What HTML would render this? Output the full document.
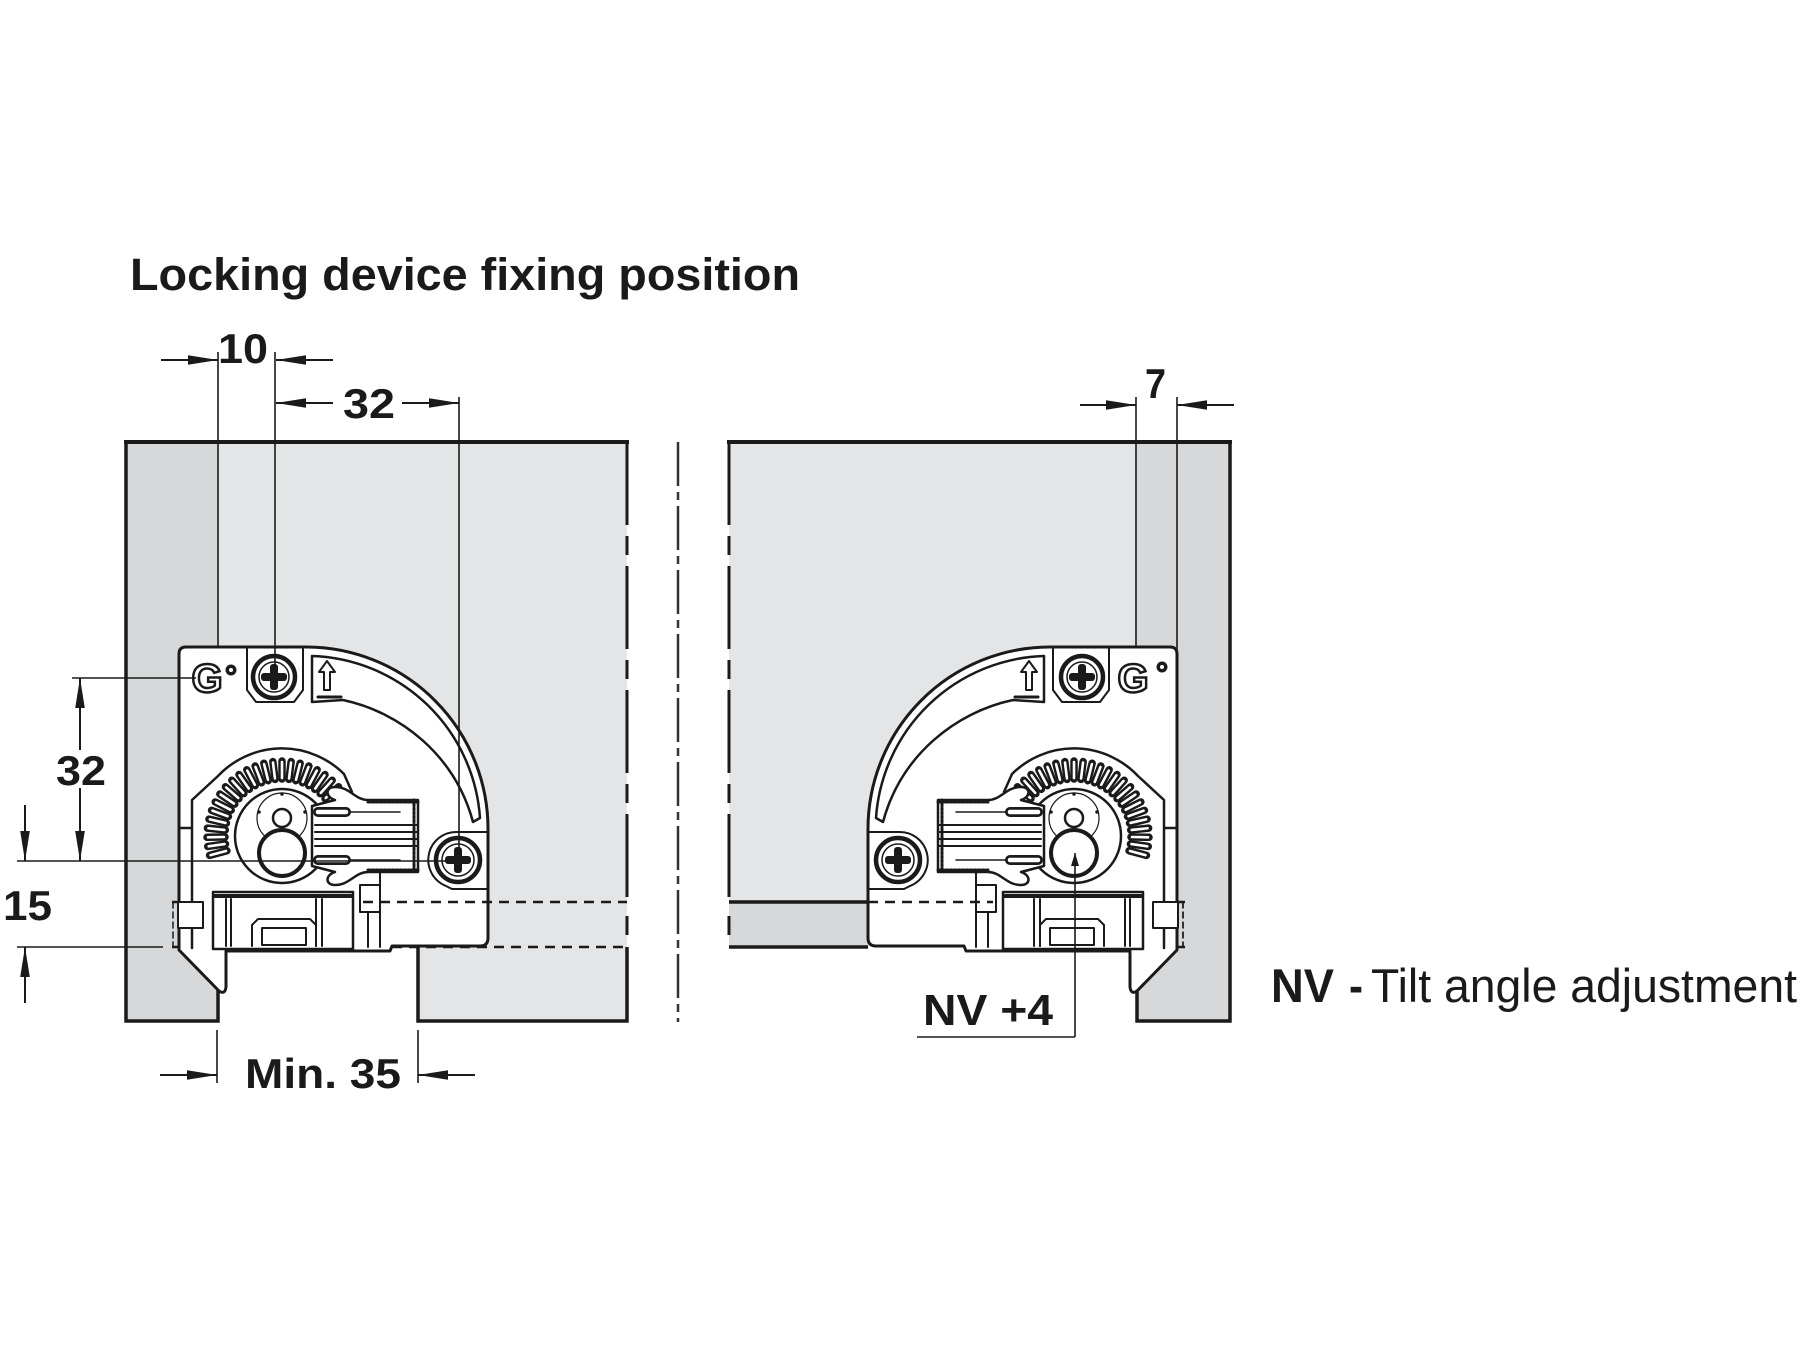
<!DOCTYPE html>
<html>
<head>
<meta charset="utf-8">
<style>
html,body{margin:0;padding:0;background:#fff;}
svg{display:block;}
text{font-family:"Liberation Sans",Arial,sans-serif;fill:#1a1a1a;}
</style>
</head>
<body>
<svg width="1800" height="1350" viewBox="0 0 1800 1350" xmlns="http://www.w3.org/2000/svg">
<defs>
  <marker id="ah" markerUnits="userSpaceOnUse" markerWidth="32" markerHeight="12" refX="30" refY="6" orient="auto">
    <path d="M0 1.2 L30 6 L0 10.8 Z" fill="#1a1a1a"/>
  </marker>
  <marker id="ahs" markerUnits="userSpaceOnUse" markerWidth="14" markerHeight="10" refX="13" refY="5" orient="auto">
    <path d="M0 1 L13 5 L0 9 Z" fill="#1a1a1a"/>
  </marker>
  <g id="tooth">
    <line x1="282" y1="761" x2="282" y2="779" stroke="#1a1a1a" stroke-width="7.5" stroke-linecap="round"/>
    <line x1="282" y1="762" x2="282" y2="778" stroke="#fff" stroke-width="2.6" stroke-linecap="round"/>
  </g>
</defs>

<rect width="1800" height="1350" fill="#fff"/>

<!-- Title -->
<text x="130" y="290" font-size="45" font-weight="bold" textLength="670" lengthAdjust="spacingAndGlyphs">Locking device fixing position</text>

<!-- Panels fills -->
<rect x="126" y="442" width="92" height="579" fill="#d7d8da"/>
<path d="M218 442 H627 V1021 H418 V947 H218 Z" fill="#e4e5e6"/>
<rect x="729" y="442" width="408" height="460" fill="#e4e5e6"/>
<rect x="729" y="902" width="139" height="45" fill="#d7d8da"/>
<rect x="1137" y="442" width="93" height="579" fill="#d7d8da"/>

<!-- Panel outlines -->
<g stroke="#1a1a1a" fill="none" stroke-width="3.5">
  <path d="M126 442 V1021 H218 V947"/>
  <path d="M418 947 V1021 H627 V947"/>
  <line x1="124" y1="442" x2="629" y2="442" stroke-width="4"/>
  <path d="M1230 442 V1021 H1137 V947"/>
  <line x1="727" y1="442" x2="1232" y2="442" stroke-width="4"/>
  <path d="M729 902 H868 M729 947 H868"/>
</g>
<g stroke="#1a1a1a" fill="none" stroke-width="3">
  <path d="M627 442 V901" stroke-dasharray="83 11 19 11"/>
  <path d="M627 916 V935"/>
  <path d="M729 442 V901" stroke-dasharray="83 11 19 11"/>
  <path d="M729 916 V935"/>
</g>
<path d="M678 442 V1022" stroke="#333" stroke-width="2.5" stroke-dasharray="44 6 8 6" fill="none"/>

<!-- Left bracket -->
<g id="lb" stroke="#1a1a1a" stroke-linejoin="round" stroke-linecap="round">
  <path d="M186 647 H307 A182 182 0 0 1 488 830 V938 Q488 946 480 946 H392 L390 951 H226 V987 Q225 995 219 991 L179 950 V654 Q179 647 186 647 Z" fill="#fff" stroke-width="3"/>
  <path d="M179 828 H192 M192 948 V800 L218 776 A88 88 0 0 1 344 774 L352 792" fill="none" stroke-width="2.5"/>
  <path d="M247 647 V690 L256 702 H294 L303 690 V647" fill="none" stroke-width="2"/>
  <path d="M312 656 A174 174 0 0 1 480 818 L473 822 C455 755 400 712 343 700 L312 702 Z" fill="#fff" stroke-width="2.5"/>
  <path d="M327 661 L335 672 H330 V690 H324 V672 H319 Z" fill="#fff" stroke-width="2"/>
  <path d="M318 697 H341" stroke-width="3" fill="none"/>
  <!-- upper screw -->
  <circle cx="274" cy="677" r="21" fill="#fff" stroke-width="4.5"/>
  <circle cx="274" cy="677" r="15" fill="none" stroke-width="1.5"/>
  <rect x="270" y="664" width="8" height="26" rx="3" fill="#1a1a1a" stroke="none"/>
  <rect x="261" y="673" width="26" height="8" rx="3" fill="#1a1a1a" stroke="none"/>
  <!-- teeth -->
  <use href="#tooth" transform="rotate(-105 282 836)"/>
  <use href="#tooth" transform="rotate(-98 282 836)"/>
  <use href="#tooth" transform="rotate(-91 282 836)"/>
  <use href="#tooth" transform="rotate(-84 282 836)"/>
  <use href="#tooth" transform="rotate(-77 282 836)"/>
  <use href="#tooth" transform="rotate(-70 282 836)"/>
  <use href="#tooth" transform="rotate(-63 282 836)"/>
  <use href="#tooth" transform="rotate(-56 282 836)"/>
  <use href="#tooth" transform="rotate(-49 282 836)"/>
  <use href="#tooth" transform="rotate(-42 282 836)"/>
  <use href="#tooth" transform="rotate(-35 282 836)"/>
  <use href="#tooth" transform="rotate(-28 282 836)"/>
  <use href="#tooth" transform="rotate(-21 282 836)"/>
  <use href="#tooth" transform="rotate(-14 282 836)"/>
  <use href="#tooth" transform="rotate(-7 282 836)"/>
  <use href="#tooth" transform="rotate(0 282 836)"/>
  <use href="#tooth" transform="rotate(7 282 836)"/>
  <use href="#tooth" transform="rotate(14 282 836)"/>
  <use href="#tooth" transform="rotate(21 282 836)"/>
  <use href="#tooth" transform="rotate(28 282 836)"/>
  <use href="#tooth" transform="rotate(35 282 836)"/>
  <use href="#tooth" transform="rotate(42 282 836)"/>
  <use href="#tooth" transform="rotate(49 282 836)"/>
  <!-- disc and knob -->
  <circle cx="282" cy="836" r="47" fill="#fff" stroke-width="2.5"/>
  <circle cx="282" cy="818" r="25" fill="none" stroke-width="1.2"/>
  <circle cx="282" cy="794" r="1.8" fill="#1a1a1a" stroke="none"/>
  <circle cx="259" cy="812" r="1.8" fill="#1a1a1a" stroke="none"/>
  <circle cx="305" cy="812" r="1.8" fill="#1a1a1a" stroke="none"/>
  <circle cx="282" cy="818" r="9" fill="#fff" stroke-width="2.5"/>
  <circle cx="282" cy="853" r="23" fill="#fff" stroke-width="4"/>
  <!-- rack -->
  <path d="M335 787 C350 787 355 800 368 800 H418 V872 H368 C355 872 350 885 335 885 C325 885 325 875 335 872 L312 866 V806 L335 800 C325 797 325 787 335 787 Z" fill="#fff" stroke-width="2.5"/>
  <path d="M368 802 H418 M368 870 H418" stroke-width="3" stroke-dasharray="2 2" fill="none"/>
  <path d="M414 800 V872" stroke-width="3" stroke-dasharray="2 2" fill="none"/>
  <g fill="none">
    <line x1="318" y1="812" x2="346" y2="812" stroke-width="10"/>
    <line x1="318" y1="812" x2="346" y2="812" stroke="#fff" stroke-width="4.5"/>
    <line x1="318" y1="860" x2="346" y2="860" stroke-width="10"/>
    <line x1="318" y1="860" x2="346" y2="860" stroke="#fff" stroke-width="4.5"/>
    <path d="M315 825 H418 M315 832 H418 M315 839 H418 M315 846 H418" stroke-width="2"/>
    <path d="M350 812 H400 M350 860 H400" stroke-width="1.5"/>
  </g>
  <!-- lower screw -->
  <path d="M488 832 H458 A28 28 0 0 0 446 886 L452 889 H488" fill="none" stroke-width="2"/>
  <circle cx="458" cy="860" r="22" fill="#fff" stroke-width="4.5"/>
  <circle cx="458" cy="860" r="16" fill="none" stroke-width="1.5"/>
  <rect x="454" y="847" width="8" height="26" rx="3" fill="#1a1a1a" stroke="none"/>
  <rect x="445" y="856" width="26" height="8" rx="3" fill="#1a1a1a" stroke="none"/>
  <!-- tab -->
  <path d="M380 872 V947 M368 912 V947" fill="none" stroke-width="2"/>
  <rect x="360" y="885" width="20" height="27" fill="#fff" stroke-width="2"/>
  <!-- runner -->
  <rect x="213" y="892" width="140" height="57" fill="#fff" stroke-width="2.5"/>
  <line x1="215" y1="896" x2="351" y2="896" stroke-width="4"/>
  <path d="M226 899 V946 M231 899 V946 M316 899 V946 M322 899 V946" fill="none" stroke-width="2"/>
  <path d="M252 946 V925 L258 919 H310 L316 925 V946" fill="none" stroke-width="2"/>
  <rect x="262" y="928" width="44" height="17" fill="none" stroke-width="2"/>
  <!-- small square -->
  <rect x="178" y="902" width="25" height="26" fill="#fff" stroke-width="2"/>
  <path d="M173 902 V947" stroke-width="1.5" stroke-dasharray="6 4" fill="none"/>
</g>

<!-- Right bracket (mirror) -->
<use href="#lb" transform="matrix(-1 0 0 1 1356 0)"/>

<!-- G icons -->
<text x="207" y="692" font-size="40" font-weight="bold" text-anchor="middle" style="fill:#fff;stroke:#1a1a1a;stroke-width:2.5">G</text>
<circle cx="231" cy="670" r="5.5" fill="#1a1a1a"/>
<circle cx="231" cy="670" r="2" fill="#fff"/>
<text x="1133" y="692" font-size="40" font-weight="bold" text-anchor="middle" style="fill:#fff;stroke:#1a1a1a;stroke-width:2.5">G</text>
<circle cx="1162" cy="667" r="5.5" fill="#1a1a1a"/>
<circle cx="1162" cy="667" r="2" fill="#fff"/>

<!-- Dashed horizontal lines -->
<g stroke="#1a1a1a" stroke-width="2.5" fill="none" stroke-dasharray="10 7">
  <path d="M363 902 H627"/>
  <path d="M392 947 H627"/>
  <path d="M868 902 H993"/>
  <path d="M1177 902 H1185 M1177 947 H1185"/>
  <path d="M172 902 H179 M172 947 H179"/>
</g>
<path d="M1183 902 V947" stroke="#1a1a1a" stroke-width="1.5" stroke-dasharray="6 4" fill="none"/>

<!-- Dimension / extension lines -->
<g stroke="#1a1a1a" stroke-width="1.6" fill="none">
  <line x1="218" y1="352" x2="218" y2="647"/>
  <line x1="275" y1="352" x2="275" y2="677"/>
  <line x1="459" y1="397" x2="459" y2="860"/>
  <line x1="72" y1="678" x2="196" y2="678"/>
  <line x1="17" y1="861" x2="458" y2="861"/>
  <line x1="17" y1="947" x2="163" y2="947"/>
  <line x1="217" y1="1030" x2="217" y2="1083"/>
  <line x1="418" y1="1030" x2="418" y2="1083"/>
  <line x1="1136" y1="397" x2="1136" y2="648"/>
  <line x1="1177" y1="397" x2="1177" y2="649"/>
  <line x1="917" y1="1037" x2="1075" y2="1037"/>
</g>
<g stroke="#1a1a1a" stroke-width="2" fill="none" marker-end="url(#ah)">
  <line x1="161" y1="360" x2="218" y2="360"/>
  <line x1="333" y1="360" x2="276" y2="360"/>
  <line x1="333" y1="403" x2="276" y2="403"/>
  <line x1="402" y1="403" x2="459" y2="403"/>
  <line x1="80" y1="750" x2="80" y2="678"/>
  <line x1="80" y1="788" x2="80" y2="861"/>
  <line x1="25" y1="805" x2="25" y2="861"/>
  <line x1="25" y1="1003" x2="25" y2="947"/>
  <line x1="160" y1="1075" x2="217" y2="1075"/>
  <line x1="475" y1="1075" x2="418" y2="1075"/>
  <line x1="1080" y1="405" x2="1136" y2="405"/>
  <line x1="1234" y1="405" x2="1177" y2="405"/>
</g>
<line x1="1075" y1="1037" x2="1075" y2="853" stroke="#1a1a1a" stroke-width="1.6" marker-end="url(#ahs)"/>

<!-- Dimension labels -->
<g font-weight="bold" font-size="42">
  <text x="218" y="363" textLength="50" lengthAdjust="spacingAndGlyphs">10</text>
  <text x="343" y="418" textLength="52" lengthAdjust="spacingAndGlyphs">32</text>
  <text x="56" y="785" textLength="50" lengthAdjust="spacingAndGlyphs">32</text>
  <text x="3" y="920" textLength="49" lengthAdjust="spacingAndGlyphs">15</text>
  <text x="245" y="1088" textLength="156" lengthAdjust="spacingAndGlyphs">Min. 35</text>
  <text x="1145" y="398" textLength="21" lengthAdjust="spacingAndGlyphs">7</text>
  <text x="923" y="1025" font-size="44" textLength="130" lengthAdjust="spacingAndGlyphs">NV +4</text>
</g>

<!-- Legend -->
<text x="1271" y="1002" font-size="47" font-weight="bold" textLength="63" lengthAdjust="spacingAndGlyphs">NV</text>
<text x="1349" y="1002" font-size="47" font-weight="bold" textLength="14" lengthAdjust="spacingAndGlyphs">-</text>
<text x="1371" y="1002" font-size="47" textLength="426" lengthAdjust="spacingAndGlyphs">Tilt angle adjustment</text>
</svg>
</body>
</html>
